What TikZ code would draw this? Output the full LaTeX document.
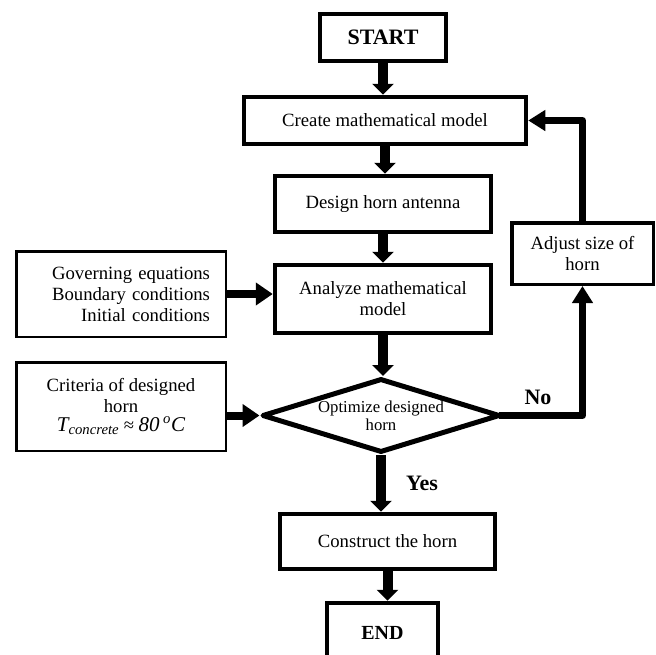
\documentclass[tikz,border=0pt]{standalone}
\usepackage{fontspec}
\setmainfont{Liberation Serif}
\usetikzlibrary{shapes.geometric,arrows.meta}
\tikzset{hornflow/.style={x=1pt,y=-1pt,font=\fontsize{18.7}{21}\selectfont},
  procbox/.style={draw,line width=4.5pt,inner sep=0pt,align=center},
  sidebox/.style={draw,line width=2.5pt,inner sep=0pt,minimum width=209.5pt},
  decision/.style={diamond,draw,line width=5pt,line join=round,inner sep=0pt,align=center,aspect=3.2,
    minimum width=238pt,minimum height=74pt,font=\fontsize{16.7}{18}\selectfont},
  mainflow/.style={line width=10pt,-{Triangle[length=11pt,width=21pt]}},
  sideflow/.style={line width=8pt,-{Triangle[length=17pt,width=22pt]}},
  loopflow/.style={line width=7pt,line join=round,-{Triangle[length=17pt,width=20pt]}},
  answer/.style={font=\fontsize{22}{24}\selectfont\bfseries}}

\begin{document}
\begin{tikzpicture}[hornflow]
    \useasboundingbox[fill=white] (0,0) rectangle (656,654);
    % main chain
    \node[procbox,minimum width=126pt,minimum height=47pt,font=\fontsize{22}{24}\selectfont\bfseries] (start) at (383,37.5) {START};
    \node[procbox,minimum width=282pt,minimum height=47pt] (create) at (385,120.5) {Create mathematical model};
    \node[procbox,minimum width=216pt,minimum height=56pt] (design) at (383,204) {Design horn antenna};
    \node[procbox,minimum width=216pt,minimum height=68pt] (analyze) at (383,299) {Analyze mathematical\\model};
    \node[decision] (opt) at (381,415.5) {Optimize designed\\horn};
    \node[procbox,minimum width=215pt,minimum height=55pt] (construct) at (387.5,541.5) {Construct the horn};
    \node[procbox,minimum width=111pt,minimum height=60pt,font=\fontsize{20}{22}\selectfont\bfseries] (end) at (382.5,633) {END};
    % side inputs
    \node[sidebox,minimum height=85.5pt,align=right,text width=178pt] (govern) at (121,294)
      {Governing equations\\Boundary conditions\\Initial conditions};
    \node[sidebox,minimum height=88.5pt,align=center] (crit) at (121,406.5)
      {Criteria of designed\\horn\\[-2pt]{\fontsize{21}{22}\selectfont\itshape T\textsubscript{concrete}} ≈ {\fontsize{21}{22}\selectfont\itshape 80\,\textsuperscript{o}C}};
    \node[draw,line width=3.5pt,inner sep=0pt,minimum width=141.5pt,minimum height=61.5pt,align=center] (adjust) at (582.5,253.5)
      {Adjust size of\\horn};
    % connectors
    \foreach \a/\b in {start/create,create/design,design/analyze,analyze/opt,opt/construct,construct/end}
      \draw[mainflow] (\a.south) -- (\a.south |- \b.north);
    \draw[sideflow] (govern.east) -- (govern.east -| analyze.west);
    \draw[sideflow] (opt.west -| crit.east) -- (opt.west);
    \draw[loopflow,shorten <=-4pt] (opt.east) -| (adjust.south);
    \draw[loopflow] (adjust.north) |- (create.east);
    \node[answer] (yes) at (422,483) {Yes};
    \node[answer] (no) at (538,397) {No};
  \end{tikzpicture}
\end{document}
